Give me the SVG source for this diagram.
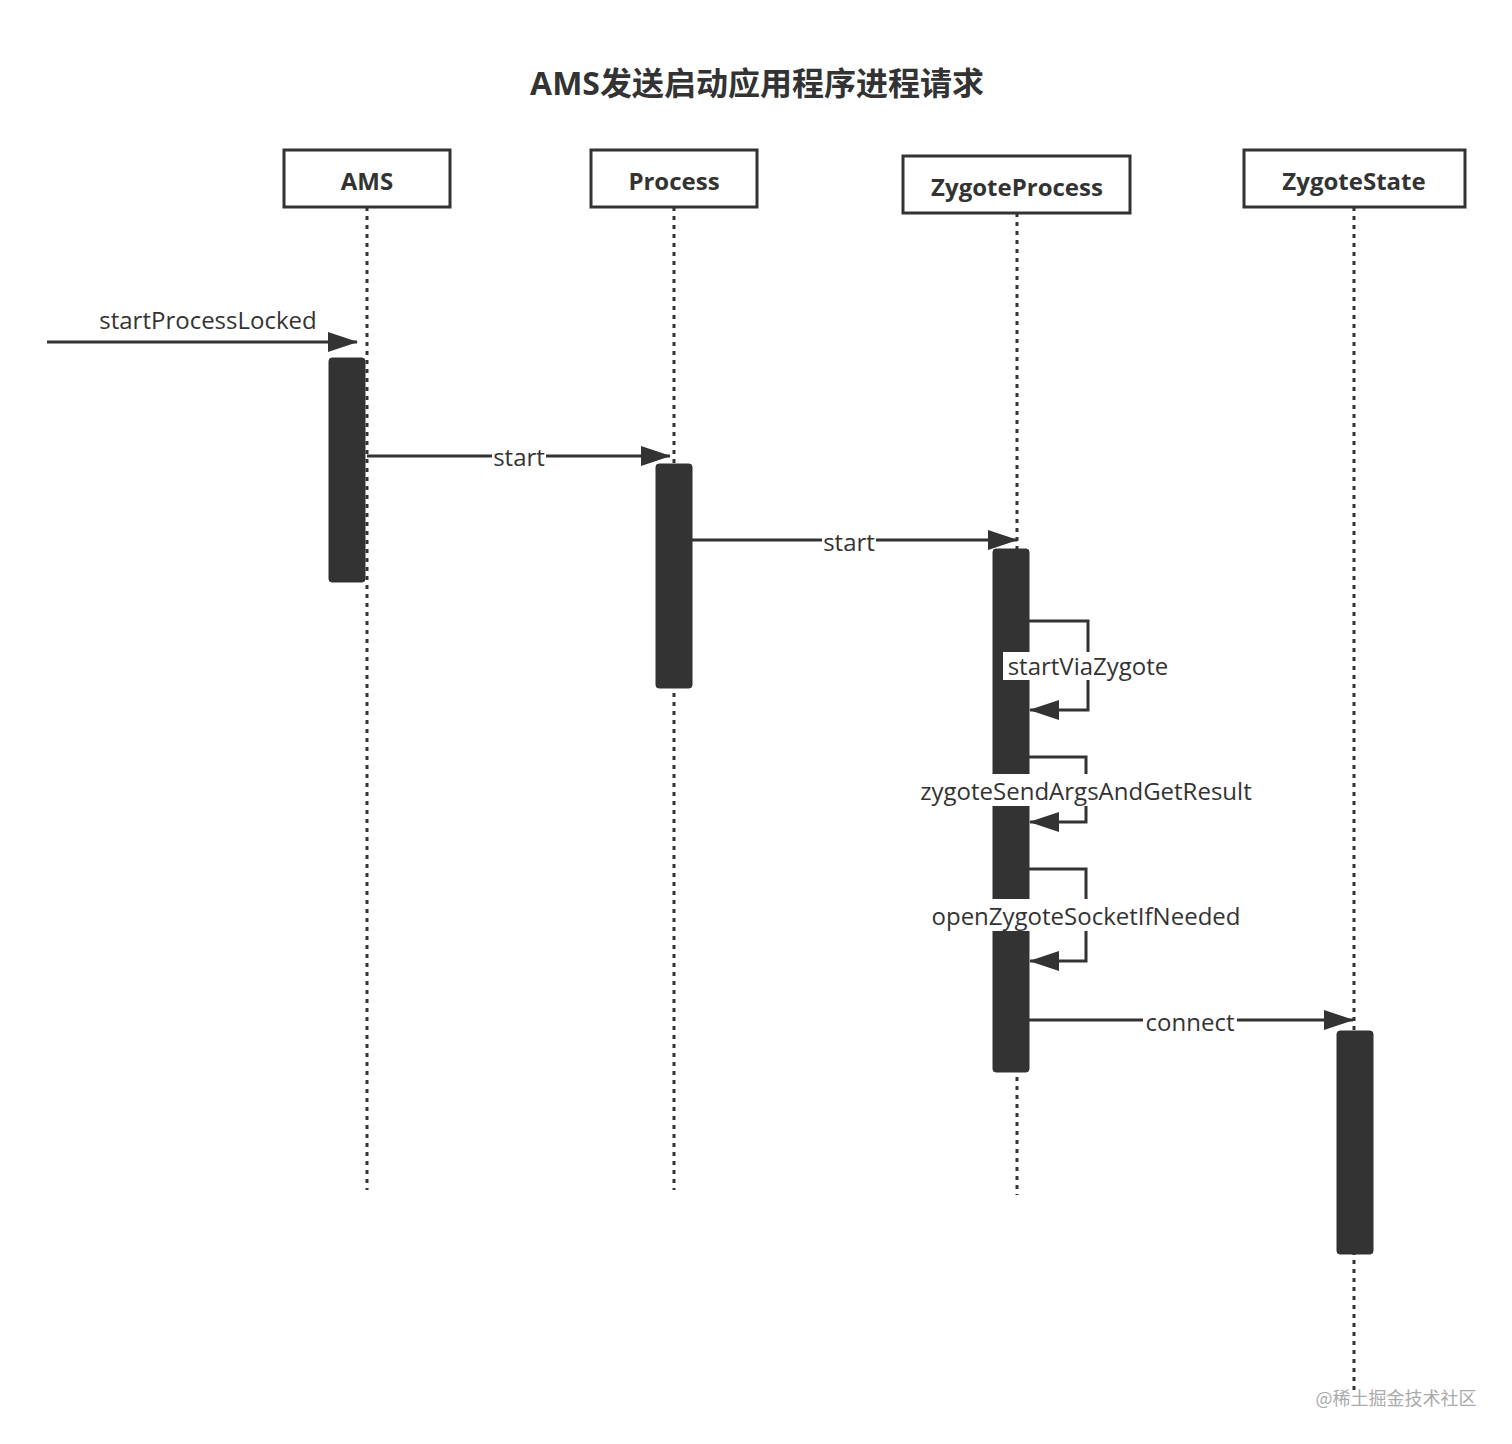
<svg xmlns="http://www.w3.org/2000/svg" width="1512" height="1444" viewBox="0 0 1512 1444">
<style>
.box{fill:#fff;stroke:#333;stroke-width:3}
.hd{font-family:"Open Sans","Noto Sans",sans-serif;font-weight:bold;font-size:24px;fill:#333;text-anchor:middle}
.life{stroke:#333;stroke-width:3;stroke-dasharray:4 5;fill:none}
.act{fill:#333;stroke:#333}
.ln{stroke:#333;stroke-width:3;fill:none}
.lb{font-family:"Open Sans","Noto Sans",sans-serif;font-size:24px;fill:#333;text-anchor:middle}
.bg{fill:#fff}
</style>
<defs><marker id="a" markerWidth="12" markerHeight="10" refX="11" refY="5" orient="auto" markerUnits="userSpaceOnUse" viewBox="0 0 12 10"><path d="M0,0 L12,5 L0,10 Z" fill="#333"/></marker>
<marker id="b" markerWidth="30" markerHeight="20" refX="29" refY="10" orient="auto" markerUnits="userSpaceOnUse" viewBox="0 0 30 20"><path d="M0,0 L30,10 L0,20 Z" fill="#333"/></marker></defs>
<rect width="1512" height="1444" fill="#fff"/>
<text x="757" y="95" font-family="'Open Sans','Noto Sans CJK SC',sans-serif" font-weight="bold" font-size="32" fill="#333" text-anchor="middle">AMS发送启动应用程序进程请求</text>
<g id="AMS"><line class="life" x1="367" y1="207" x2="367" y2="1190"/><rect class="box" x="284" y="150" width="166" height="57"/><text class="hd" x="367" y="190">AMS</text><rect class="act" x="329" y="358" width="36" height="224" rx="3"/></g>
<g id="Process"><line class="life" x1="674" y1="207" x2="674" y2="1190"/><rect class="box" x="591" y="150" width="166" height="57"/><text class="hd" x="674" y="190">Process</text><rect class="act" x="656" y="464" width="36" height="224" rx="3"/></g>
<g id="ZygoteProcess"><line class="life" x1="1017" y1="213" x2="1017" y2="1195"/><rect class="box" x="903" y="156" width="227" height="57"/><text class="hd" x="1017" y="196">ZygoteProcess</text><rect class="act" x="993" y="549" width="36" height="523" rx="3"/></g>
<g id="ZygoteState"><line class="life" x1="1354" y1="207" x2="1354" y2="1395"/><rect class="box" x="1244" y="150" width="221" height="57"/><text class="hd" x="1354" y="190">ZygoteState</text><rect class="act" x="1337" y="1031" width="36" height="223" rx="3"/></g>
<g id="connectors">
<line class="ln" x1="47" y1="342" x2="357" y2="342" marker-end="url(#b)"/>
<text class="lb" x="208" y="329">startProcessLocked</text>
<line class="ln" x1="367" y1="456" x2="670" y2="456" marker-end="url(#b)"/>
<rect class="bg" x="492" y="446" width="54" height="24"/><text class="lb" x="519" y="466">start</text>
<line class="ln" x1="692" y1="540" x2="1017" y2="540" marker-end="url(#b)"/>
<rect class="bg" x="822" y="530" width="54" height="24"/><text class="lb" x="849" y="551">start</text>
<path class="ln" d="M1029,621 H1088 V710 H1030" marker-end="url(#b)"/>
<rect class="bg" x="1003" y="652" width="170" height="28"/><text class="lb" x="1088" y="675">startViaZygote</text>
<path class="ln" d="M1029,757 H1086 V822 H1030" marker-end="url(#b)"/>
<rect class="bg" x="910" y="774" width="352" height="32"/><text class="lb" x="1086" y="800">zygoteSendArgsAndGetResult</text>
<path class="ln" d="M1029,869 H1086 V961 H1030" marker-end="url(#b)"/>
<rect class="bg" x="921" y="899" width="330" height="32"/><text class="lb" x="1086" y="925">openZygoteSocketIfNeeded</text>
<line class="ln" x1="1029" y1="1020" x2="1353" y2="1020" marker-end="url(#b)"/>
<rect class="bg" x="1143" y="1010" width="94" height="24"/><text class="lb" x="1190" y="1031">connect</text>
</g>
<text x="1396" y="1405" font-family="'Noto Sans CJK SC',sans-serif" font-size="18" fill="#aaa" text-anchor="middle">@稀土掘金技术社区</text>
</svg>
